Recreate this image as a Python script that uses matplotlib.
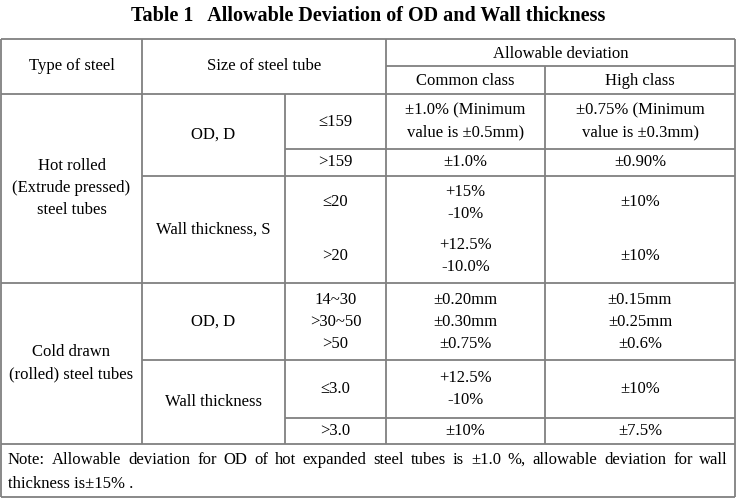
import matplotlib
matplotlib.use("Agg")
import matplotlib.pyplot as plt

# Table content
title = "Table 1   Allowable Deviation of OD and Wall thickness"
header_top = ["Type of steel", "Size of steel tube", "Allowable deviation"]
header_sub = ["Common class", "High class"]
steel_types = ["Hot rolled\n(Extrude pressed)\nsteel tubes", "Cold drawn\n(rolled) steel tubes"]
size_groups = ["OD, D", "Wall thickness, S", "OD, D", "Wall thickness"]
sizes = ["\u2264159", ">159", "\u226420", ">20",
         "14~30\n>30~50\n>50", "\u22643.0", ">3.0"]
common = ["\u00b11.0% (Minimum\nvalue is \u00b10.5mm)", "\u00b11.0%", "+15%\n-10%", "+12.5%\n-10.0%",
          "\u00b10.20mm\n\u00b10.30mm\n\u00b10.75%", "+12.5%\n-10%", "\u00b110%"]
high = ["\u00b10.75% (Minimum\nvalue is \u00b10.3mm)", "\u00b10.90%", "\u00b110%", "\u00b110%",
        "\u00b10.15mm\n\u00b10.25mm\n\u00b10.6%", "\u00b110%", "\u00b17.5%"]
note_line1 = "Note: Allowable deviation for OD of hot expanded steel tubes is \u00b11.0 %, allowable deviation for wall"
note_line2 = "thickness is\u00b115% ."

plt.rcParams["font.family"] = "Liberation Serif"
fig = plt.figure(figsize=(7.36, 5.0), dpi=100)
ax = fig.add_axes([0, 0, 1, 1])
ax.set_xlim(0, 736)
ax.set_ylim(500, 0)
ax.axis("off")

lc = "#808080"
lw = 1.3

def hl(y, x0, x1):
    ax.plot([x0, x1], [y, y], color=lc, lw=lw, solid_capstyle="butt")

def vl(x, y0, y1):
    ax.plot([x, x], [y0, y1], color=lc, lw=lw, solid_capstyle="butt")

# column and row edges (pixels)
xs = [1, 142, 285, 386, 545, 735]
top, hmid, hbot = 39, 66, 94
rows = [94, 149, 176, 229, 283, 360, 418, 444]  # edges of size rows
bottom = 497

# grid
hl(top, xs[0], xs[5])
hl(hmid, xs[3], xs[5])
hl(hbot, xs[0], xs[5])
hl(rows[1], xs[2], xs[5])
hl(rows[2], xs[1], xs[5])
hl(rows[4], xs[0], xs[5])
hl(rows[5], xs[1], xs[5])
hl(rows[6], xs[2], xs[5])
hl(rows[7], xs[0], xs[5])
hl(bottom, xs[0], xs[5])
vl(xs[0], top, bottom)
vl(xs[5], top, bottom)
vl(xs[1], top, rows[7])
vl(xs[3], top, rows[7])
vl(xs[4], hmid, rows[7])
vl(xs[2], rows[0], rows[7])

fs = 12
def txt(x, y, s, **kw):
    ax.text(x, y, s, ha="center", va="center", fontsize=fs, linespacing=1.5, **kw)

ax.text(368, 16, title, ha="center", va="center", fontsize=14.5, fontweight="bold")
txt((xs[0] + xs[1]) / 2, (top + hbot) / 2, header_top[0])
txt((xs[1] + xs[3]) / 2, (top + hbot) / 2, header_top[1])
txt((xs[3] + xs[5]) / 2, (top + hmid) / 2 + 1, header_top[2])
txt((xs[3] + xs[4]) / 2, (hmid + hbot) / 2 + 1, header_sub[0])
txt((xs[4] + xs[5]) / 2, (hmid + hbot) / 2 + 1, header_sub[1])

txt((xs[0] + xs[1]) / 2, (rows[0] + rows[4]) / 2, steel_types[0])
txt((xs[0] + xs[1]) / 2, (rows[4] + rows[7]) / 2, steel_types[1])

grp_rows = [(rows[0], rows[2]), (rows[2], rows[4]), (rows[4], rows[5]), (rows[5], rows[7])]
for g, (y0, y1) in zip(size_groups, grp_rows):
    txt((xs[1] + xs[2]) / 2, (y0 + y1) / 2, g)

for i in range(7):
    yc = (rows[i] + rows[i + 1]) / 2
    txt((xs[2] + xs[3]) / 2, yc, sizes[i])
    txt((xs[3] + xs[4]) / 2, yc, common[i])
    txt((xs[4] + xs[5]) / 2, yc, high[i])

# note: first line justified across the cell
words = note_line1.split(" ")
fig.canvas.draw()
rend = fig.canvas.get_renderer()
widths = []
for w in words:
    t = ax.text(0, 0, w, fontsize=fs)
    widths.append(t.get_window_extent(rend).width)
    t.remove()
x0, x1 = 8, 728
gap = (x1 - x0 - sum(widths)) / (len(words) - 1)
x = x0
for w, wd in zip(words, widths):
    ax.text(x, 460, w, ha="left", va="center", fontsize=fs)
    x += wd + gap
ax.text(x0, 484, note_line2, ha="left", va="center", fontsize=fs)

fig.savefig("out.png", dpi=100)
